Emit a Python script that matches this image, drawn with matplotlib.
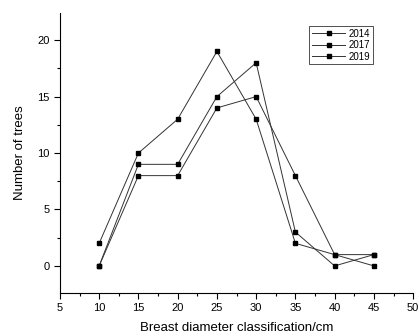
import numpy as np
import matplotlib.pyplot as plt
from matplotlib.ticker import MultipleLocator

plt.rcParams['font.family'] = ['Arial', 'Liberation Sans', 'DejaVu Sans']

diam = [10, 15, 20, 25, 30, 35, 40, 45]
trees_2014 = [0, 8, 8, 14, 15, 8, 1, 1]
trees_2017 = [0, 9, 9, 15, 18, 3, 0, 1]
trees_2019 = [2, 10, 13, 19, 13, 2, 1, 0]

fig = plt.figure(figsize=(4.19, 3.36), dpi=100)
ax = fig.add_axes([0.143, 0.128, 0.843, 0.833])

for y, lab in [(trees_2014, '2014'), (trees_2017, '2017'), (trees_2019, '2019')]:
    ax.plot(diam, y, color='#333333', lw=0.7, marker='s', ms=3,
            mfc='black', mec='black', label=lab)

ax.set_xlim(5, 50)
ax.set_ylim(-2.4, 22.4)
ax.xaxis.set_major_locator(MultipleLocator(5))
ax.xaxis.set_minor_locator(MultipleLocator(2.5))
ax.yaxis.set_major_locator(MultipleLocator(5))
ax.yaxis.set_minor_locator(MultipleLocator(2.5))
ax.spines['top'].set_visible(False)
ax.spines['right'].set_visible(False)
ax.tick_params(which='major', direction='out', length=4, width=0.8, labelsize=8)
ax.tick_params(which='minor', direction='out', length=2, width=0.8)

ax.set_xlabel('Breast diameter classification/cm', fontsize=9.5, labelpad=6)
ax.set_ylabel('Number of trees', fontsize=9.5, labelpad=8)

leg = ax.legend(loc='upper right', bbox_to_anchor=(0.886, 0.955), fontsize=7,
                frameon=True, fancybox=False, edgecolor='black', handlelength=3.4,
                borderpad=0.3, labelspacing=0.15, handletextpad=0.3,
                borderaxespad=0)
leg.get_frame().set_linewidth(0.6)

fig.savefig('out.png', dpi=100)
